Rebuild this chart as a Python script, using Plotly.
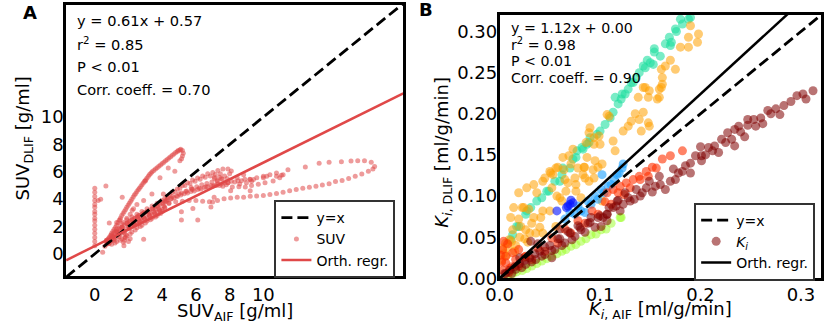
import plotly.graph_objects as go

# ---------------- Panel A data: SUV (AIF vs DLIF) ----------------
col_x = [0, 0, 0, 0, 0, 0, 0, 0, 0, 0, 0, 0, 0, 0, 0, 0, 0.2, 0.35]
col_y = [0.6, 0.9, 1.2, 1.5, 1.8, 2.1, 2.4, 2.6, 2.9, 3.1, 3.4, 3.6, 3.9, 4.2, 4.5, 4.8, 3.9, 4.0]

upper_x = [0.7, 0.85, 1.0, 1.15, 1.3, 1.45, 1.6, 1.75, 1.9, 2.05, 2.2, 2.35, 2.5, 2.65, 2.8, 2.95, 3.1, 3.25,
           3.4, 3.6, 3.8, 4.0, 4.2, 4.4, 4.6, 4.8, 4.95, 5.1, 5.2, 5.25, 5.2, 5.15, 5.05,
           0.9, 1.1, 1.3, 1.5, 1.7, 1.9, 2.1, 2.3, 2.5]
upper_y = [0.9, 1.2, 1.5, 1.8, 2.1, 2.45, 2.8, 3.1, 3.4, 3.7, 4.0, 4.3, 4.55, 4.8, 5.05, 5.3, 5.55, 5.8,
           6.0, 6.2, 6.4, 6.6, 6.8, 7.0, 7.2, 7.4, 7.55, 7.65, 7.55, 7.35, 7.15, 6.95, 6.8,
           1.0, 1.3, 1.6, 1.9, 2.3, 2.6, 2.9, 3.3, 3.6]

upper2_x = [0.78, 0.93, 1.08, 1.23, 1.38, 1.53, 1.68, 1.83, 1.98, 2.13, 2.28, 2.43, 2.58, 2.73, 2.88, 3.03,
            3.18, 3.33, 3.5, 3.7, 3.9, 4.1, 4.3, 4.5, 4.7, 4.9, 5.05]
upper2_y = [1.05, 1.35, 1.65, 1.95, 2.28, 2.62, 2.95, 3.25, 3.55, 3.85, 4.15, 4.42, 4.68, 4.92, 5.18, 5.42,
            5.68, 5.9, 6.1, 6.3, 6.5, 6.7, 6.9, 7.1, 7.3, 7.48, 7.6]

band_x = [0.7, 1.0, 1.3, 1.6, 1.9, 2.2, 2.5, 2.8, 3.1, 3.4, 3.7, 4.0, 4.3,
          0.8, 1.1, 1.4, 1.7, 2.0, 2.3, 2.6, 2.9, 3.2, 3.5, 3.8, 4.1, 4.4,
          1.0, 1.3, 1.6, 1.9, 2.2, 2.5, 2.8, 3.1, 3.4, 3.7, 4.0,
          1.7, 1.75, 1.8, 1.85, 2.0, 2.1,
          1.3, 1.5, 1.2, 1.6, 2.1, 2.4, 2.6, 2.9, 1.9, 2.6,
          0.6, 0.9, 1.15, 1.45, 2.35, 2.75, 3.25, 3.6]
band_y = [1.0, 1.4, 1.8, 2.2, 2.5, 2.7, 2.9, 3.1, 3.3, 3.5, 3.7, 3.9, 4.1,
          0.8, 1.1, 1.4, 1.7, 2.0, 2.3, 2.5, 2.7, 2.9, 3.1, 3.3, 3.5, 3.7,
          0.7, 0.9, 1.1, 1.3, 1.6, 1.9, 2.1, 2.4, 2.6, 2.8, 3.1,
          0.85, 1.0, 1.2, 1.4, 0.9, 1.1,
          2.3, 2.5, 1.6, 1.9, 2.4, 2.6, 2.8, 3.0, 2.2, 2.2,
          0.55, 0.95, 1.25, 1.6, 2.15, 2.6, 3.0, 3.3]

band2_x = [0.75, 1.05, 1.35, 1.65, 1.95, 2.25, 2.55, 2.85, 3.15, 3.45, 3.75, 4.05,
           0.85, 1.15, 1.45, 1.75, 2.05, 2.35, 2.65, 2.95, 3.25, 3.55, 3.85, 4.15,
           1.2, 1.5, 1.8, 2.1, 2.4, 2.7, 3.0, 3.3, 3.6, 3.9]
band2_y = [0.9, 1.25, 1.6, 1.95, 2.25, 2.5, 2.7, 2.9, 3.1, 3.3, 3.5, 3.7,
           0.75, 1.0, 1.25, 1.55, 1.85, 2.15, 2.4, 2.6, 2.8, 3.0, 3.2, 3.4,
           0.8, 1.0, 1.2, 1.45, 1.75, 2.0, 2.25, 2.5, 2.7, 2.95]

band3_x = [0.7, 0.85, 1.0, 1.15, 1.3, 1.45, 1.6, 1.75, 1.9, 2.05, 2.2, 2.35, 2.5, 2.65, 2.8, 2.95, 3.1, 3.25,
           3.4, 3.55, 3.7, 3.85, 4.0, 4.15]
band3_hi_y = [1.0, 1.15, 1.3, 1.5, 1.65, 1.8, 1.95, 2.1, 2.25, 2.35, 2.5, 2.6, 2.7, 2.8, 2.9, 3.0, 3.1, 3.2,
              3.3, 3.4, 3.5, 3.6, 3.7, 3.8]
band3_lo_y = [0.7, 0.8, 0.95, 1.1, 1.25, 1.4, 1.5, 1.65, 1.8, 1.9, 2.0, 2.1, 2.2, 2.35, 2.45, 2.55, 2.65, 2.75,
              2.85, 2.95, 3.05, 3.15, 3.25, 3.35]

arm_x = [4.3, 4.6, 4.9, 5.2, 5.5, 5.8, 6.1, 6.4, 6.7, 7.0, 7.3, 7.6, 7.9, 8.1, 8.0, 7.7, 7.4, 7.1,
         4.5, 4.9, 5.3, 5.7, 6.1, 6.5, 6.9, 7.3, 7.7, 8.1, 8.5, 8.9, 9.2, 9.3, 9.0, 8.6,
         4.4, 4.8, 5.2, 5.6, 6.0, 6.4, 6.8,
         4.2, 4.6, 5.0, 5.4, 5.8, 6.2, 6.6, 7.0, 7.4, 7.8,
         7.1, 7.5, 7.9, 7.6, 7.2]
arm_y = [4.2, 4.5, 4.75, 5.0, 5.2, 5.4, 5.55, 5.7, 5.85, 5.95, 6.1, 6.2, 6.2, 6.05, 5.85, 5.7, 5.6, 5.5,
         4.0, 4.2, 4.4, 4.55, 4.7, 4.85, 5.0, 5.1, 5.2, 5.3, 5.35, 5.45, 5.45, 5.3, 5.2, 5.1,
         3.7, 3.8, 3.85, 3.9, 3.9, 3.85, 3.8,
         3.9, 4.2, 4.4, 4.55, 4.7, 4.8, 4.9, 4.95, 5.0, 5.05,
         5.6, 5.5, 5.2, 4.95, 5.0]

arm2_x = [4.15, 4.45, 4.75, 5.05, 5.35, 5.65, 5.95, 6.25, 6.55, 6.85, 7.15, 7.45,
          4.3, 4.7, 5.1, 5.5, 5.9, 6.3, 6.7, 7.1, 7.5, 7.9, 8.3, 8.7,
          4.25, 4.55, 4.85, 5.15, 5.45, 5.75, 6.05, 6.35, 6.65, 6.95, 7.25, 7.55, 7.85]
arm2_y = [4.05, 4.3, 4.55, 4.8, 5.0, 5.15, 5.3, 5.45, 5.6, 5.7, 5.8, 5.85,
          3.95, 4.1, 4.3, 4.45, 4.6, 4.75, 4.9, 5.0, 5.1, 5.2, 5.25, 5.35,
          3.85, 4.05, 4.25, 4.45, 4.6, 4.75, 4.9, 5.05, 5.15, 5.25, 5.35, 5.45, 5.5]

loop11_x = [9.22, 9.61, 10.0, 10.39, 10.78, 11.07, 10.97, 10.58, 10.1, 9.7, 9.3, 8.93, 8.55, 8.16]
loop11_y = [5.44, 5.56, 5.67, 5.79, 5.91, 5.74, 5.56, 5.32, 5.2, 5.09, 5.0, 4.89, 4.9, 4.89]

big_x = [11.46, 12.49, 13.31, 13.9, 14.63, 15.2, 15.6, 16.0, 16.4, 16.6, 16.5, 16.23, 15.84, 15.45, 15.06,
         14.67, 14.28, 13.9, 13.5, 13.12, 12.73, 12.34, 11.95, 11.56, 11.17, 10.78, 10.39, 10.0, 9.6, 9.22,
         8.83, 8.45, 8.06, 7.67, 7.28, 6.99]
big_y = [6.15, 6.34, 6.62, 6.69, 6.74, 6.79, 6.81, 6.81, 6.7, 6.38, 6.2, 6.03, 5.84, 5.67, 5.51,
         5.37, 5.28, 5.13, 5.04, 4.94, 4.87, 4.8, 4.71, 4.61, 4.5, 4.42, 4.33, 4.26, 4.23, 4.21,
         4.14, 4.14, 4.09, 4.02, 3.9, 3.79]

stray_x = [0.66, 0.86, 1.63, 2.22, 2.9, 1.73, 0.47, 3.87, 4.75, 4.07, 3.39, 2.9, 5.14, 5.82, 5.14, 6.11,
           3.0, 4.36, 5.72, 7.08, 7.28, 8.45, 8.83, 9.42, 10.0, 10.2, 10.78, 11.17, 9.22, 8.06, 6.89]
stray_y = [4.96, 2.25, 4.14, 3.19, 1.06, 0.6, 0.12, 5.56, 6.03, 4.38, 4.38, 3.9, 3.08, 3.31, 2.48, 2.48,
           5.32, 6.27, 4.85, 4.14, 5.32, 5.56, 5.79, 5.44, 5.56, 5.67, 5.67, 5.79, 4.61, 4.61, 3.43]

suv_aif = (col_x + upper_x + upper2_x + band_x + band2_x + band3_x + band3_x + arm_x + arm2_x
           + loop11_x + big_x + stray_x)
suv_dlif = (col_y + upper_y + upper2_y + band_y + band2_y + band3_hi_y + band3_lo_y + arm_y + arm2_y
            + loop11_y + big_y + stray_y)

A_SLOPE, A_INTERCEPT = 0.61, 0.57
A_XRANGE = [-1.7, 18.3]
A_YRANGE = [-1.65, 18.2]
A_TICKS = [0, 2, 4, 6, 8, 10]
A_STATS = ["y = 0.61x + 0.57", "r<sup>2</sup> = 0.85", "P < 0.01", "Corr. coeff. = 0.70"]

# ---------------- Panel B data: Ki (AIF vs DLIF), per colour group ----------------
dr_x = [0.312, 0.302, 0.296, 0.283, 0.275, 0.267, 0.26, 0.253, 0.247, 0.247, 0.234, 0.227, 0.231, 0.221, 0.234,
        0.214, 0.218, 0.208, 0.201, 0.201, 0.195, 0.185, 0.182, 0.175, 0.165, 0.16, 0.159, 0.149, 0.146, 0.136,
        0.134, 0.13, 0.123, 0.116, 0.113, 0.107, 0.103, 0.107,
        0.29, 0.27, 0.255, 0.24, 0.225, 0.212, 0.205, 0.19, 0.178, 0.17, 0.155, 0.142, 0.128, 0.12, 0.118, 0.125,
        0.14, 0.152, 0.244, 0.262, 0.279, 0.305, 0.19, 0.238, 0.2, 0.173,
        0.117, 0.107, 0.098, 0.088, 0.101, 0.081, 0.075, 0.065, 0.055, 0.045, 0.036, 0.026, 0.016, 0.006, 0.031,
        0.109, 0.091, 0.052,
        0.01, 0.02, 0.03, 0.04, 0.05, 0.06, 0.07, 0.08, 0.09, 0.1,
        0.012, 0.022, 0.032, 0.042, 0.052, 0.062, 0.072, 0.085, 0.095,
        0.005, 0.015, 0.025, 0.035, 0.045, 0.058, 0.068, 0.078,
        0.02, 0.038, 0.06]
dr_y = [0.228, 0.224, 0.222, 0.21, 0.206, 0.204, 0.195, 0.193, 0.193, 0.186, 0.181, 0.177, 0.169, 0.169, 0.161,
        0.161, 0.153, 0.159, 0.149, 0.143, 0.149, 0.137, 0.13, 0.12, 0.108, 0.114, 0.124, 0.118, 0.11, 0.108,
        0.096, 0.094, 0.09, 0.088, 0.086, 0.078, 0.074, 0.07,
        0.215, 0.2, 0.185, 0.178, 0.165, 0.155, 0.15, 0.14, 0.128, 0.118, 0.112, 0.104, 0.098, 0.082, 0.095, 0.104,
        0.1, 0.105, 0.172, 0.188, 0.199, 0.218, 0.128, 0.185, 0.16, 0.133,
        0.094, 0.078, 0.074, 0.067, 0.063, 0.059, 0.051, 0.043, 0.035, 0.029, 0.023, 0.017, 0.011, 0.0054, 0.045,
        0.086, 0.074, 0.025,
        0.01, 0.018, 0.025, 0.033, 0.04, 0.048, 0.055, 0.062, 0.068, 0.076,
        0.006, 0.013, 0.02, 0.027, 0.034, 0.04, 0.047, 0.056, 0.062,
        0.006, 0.014, 0.022, 0.03, 0.038, 0.048, 0.057, 0.064,
        0.025, 0.042, 0.06]

ro_x = [0.124, 0.111, 0.098, 0.085, 0.071, 0.058, 0.045, 0.032, 0.019, 0.0095, 0.003, 0.006, 0.013, 0.019, 0.006,
        0.016, 0.026, 0.152, 0.156, 0.146, 0.139, 0.133, 0.126, 0.12, 0.113, 0.107, 0.162, 0.17, 0.182,
        0.118, 0.105, 0.092, 0.078, 0.065, 0.052, 0.038, 0.025, 0.012,
        0.002, 0.004, 0.008, 0.01, 0.001, 0.003, 0.14, 0.148, 0.13]
ro_y = [0.102, 0.09, 0.078, 0.067, 0.055, 0.043, 0.033, 0.023, 0.015, 0.0075, 0.035, 0.027, 0.031, 0.035, 0.019,
        0.023, 0.027, 0.135, 0.134, 0.13, 0.124, 0.12, 0.116, 0.112, 0.108, 0.104, 0.145, 0.149, 0.155,
        0.104, 0.093, 0.082, 0.07, 0.06, 0.049, 0.037, 0.026, 0.014,
        0.02, 0.045, 0.042, 0.012, 0.028, 0.01, 0.12, 0.124, 0.11]

or_x = [0.05, 0.045, 0.037, 0.0225, 0.029, 0.019, 0.006, 0.003, 0.052, 0.057, 0.065, 0.068, 0.062, 0.078, 0.0845,
        0.093, 0.098, 0.075, 0.085, 0.094, 0.076, 0.081, 0.013, 0.0095, 0.026, 0.032, 0.041, 0.036,
        0.188, 0.18, 0.188, 0.17, 0.165, 0.175, 0.162, 0.159, 0.157, 0.143, 0.138, 0.149, 0.131, 0.139, 0.143,
        0.149, 0.123, 0.141, 0.107, 0.113, 0.115, 0.1, 0.094, 0.102, 0.095, 0.087, 0.084, 0.071, 0.063, 0.064,
        0.058, 0.051, 0.09, 0.094,
        0.19, 0.198, 0.197, 0.161, 0.162, 0.161, 0.159, 0.145, 0.148, 0.135, 0.148, 0.128, 0.109, 0.089, 0.099,
        0.086, 0.073, 0.069, 0.056, 0.053, 0.043, 0.034, 0.027, 0.019, 0.024, 0.014, 0.011, 0.021, 0.034, 0.043,
        0.06, 0.066, 0.076, 0.083, 0.089, 0.102, 0.056, 0.043, 0.05,
        0.004, 0.008, 0.012, 0.016, 0.02, 0.025, 0.03, 0.002, 0.007, 0.015, 0.028, 0.04]
or_y = [0.13, 0.122, 0.104, 0.086, 0.084, 0.072, 0.043, 0.037, 0.11, 0.1, 0.12, 0.116, 0.094, 0.134, 0.135,
        0.132, 0.135, 0.122, 0.122, 0.122, 0.106, 0.098, 0.059, 0.047, 0.059, 0.067, 0.074, 0.055,
        0.281, 0.281, 0.293, 0.265, 0.258, 0.254, 0.236, 0.23, 0.218, 0.232, 0.22, 0.228, 0.191, 0.193, 0.202,
        0.185, 0.179, 0.179, 0.199, 0.167, 0.155, 0.163, 0.163, 0.139, 0.143, 0.147, 0.135, 0.139, 0.147, 0.132,
        0.135, 0.128, 0.183, 0.171,
        0.307, 0.297, 0.287, 0.254, 0.244, 0.232, 0.22, 0.232, 0.22, 0.2, 0.189, 0.185, 0.197, 0.177, 0.173,
        0.165, 0.157, 0.149, 0.134, 0.126, 0.118, 0.114, 0.11, 0.104, 0.086, 0.086, 0.074, 0.063, 0.074, 0.082,
        0.098, 0.106, 0.114, 0.126, 0.118, 0.094, 0.063, 0.055, 0.082,
        0.03, 0.038, 0.045, 0.04, 0.05, 0.048, 0.055, 0.022, 0.028, 0.033, 0.044, 0.062]

aq_x = [0.042, 0.049, 0.055, 0.062, 0.07, 0.031, 0.026, 0.019, 0.013,
        0.188, 0.182, 0.175, 0.169, 0.165, 0.17, 0.154, 0.147, 0.143, 0.139, 0.136, 0.133, 0.128, 0.125, 0.121,
        0.118, 0.113, 0.11, 0.105, 0.1, 0.097, 0.09, 0.087, 0.082, 0.077, 0.076,
        0.18, 0.19, 0.171, 0.154, 0.153, 0.145, 0.131, 0.122, 0.115, 0.089, 0.083, 0.073, 0.063, 0.06, 0.047,
        0.037, 0.027, 0.017, 0.011, 0.176, 0.16, 0.15]
aq_y = [0.098, 0.106, 0.118, 0.126, 0.134, 0.086, 0.078, 0.063, 0.053,
        0.315, 0.309, 0.303, 0.293, 0.285, 0.283, 0.279, 0.265, 0.258, 0.25, 0.244, 0.238, 0.23, 0.224, 0.218,
        0.212, 0.202, 0.195, 0.187, 0.179, 0.175, 0.171, 0.163, 0.159, 0.155, 0.147,
        0.315, 0.317, 0.287, 0.275, 0.26, 0.256, 0.238, 0.224, 0.22, 0.165, 0.157, 0.145, 0.134, 0.118, 0.106,
        0.094, 0.082, 0.063, 0.047, 0.3, 0.27, 0.262]

lb_x = [0.075, 0.081, 0.091, 0.098, 0.104, 0.111, 0.117, 0.122, 0.088, 0.078, 0.101, 0.114, 0.123, 0.102,
        0.108, 0.095, 0.085, 0.119, 0.065, 0.07]
lb_y = [0.078, 0.082, 0.09, 0.096, 0.104, 0.114, 0.126, 0.134, 0.094, 0.088, 0.108, 0.12, 0.139, 0.126,
        0.112, 0.1, 0.08, 0.128, 0.072, 0.08]

bl_x = [0.07, 0.073, 0.0665, 0.057, 0.071, 0.068]
bl_y = [0.09, 0.092, 0.086, 0.082, 0.095, 0.088]

gr_x = [0.12, 0.111, 0.101, 0.091, 0.081, 0.071, 0.062, 0.052, 0.042, 0.032, 0.0225, 0.013,
        0.121, 0.106, 0.096, 0.086, 0.076, 0.066, 0.057, 0.047, 0.037, 0.027, 0.017, 0.008]
gr_y = [0.074, 0.067, 0.059, 0.053, 0.045, 0.039, 0.033, 0.027, 0.021, 0.015, 0.0095, 0.0054,
        0.074, 0.06, 0.054, 0.048, 0.041, 0.035, 0.03, 0.024, 0.018, 0.012, 0.008, 0.003]

B_SLOPE, B_INTERCEPT = 1.12, 0.00
B_RANGE = [0, 0.32]
B_XTICKS = [0.0, 0.1, 0.2, 0.3]
B_YTICKS = [0.0, 0.05, 0.10, 0.15, 0.20, 0.25, 0.30]
B_STATS = ["y = 1.12x + 0.00", "r<sup>2</sup> = 0.98", "P < 0.01", "Corr. coeff. = 0.90"]

# ---------------- Figure ----------------
W, H = 824, 333
FONT = "DejaVu Sans"
RED = "#e04848"

fig = go.Figure()

# Panel A
fig.add_trace(go.Scatter(x=suv_aif, y=suv_dlif, mode="markers", name="SUV",
                         marker=dict(size=5, color=RED, opacity=0.55, line=dict(width=0)),
                         xaxis="x", yaxis="y", legend="legend", legendrank=2))
fig.add_trace(go.Scatter(x=A_XRANGE, y=A_XRANGE, mode="lines", name="y=x",
                         line=dict(color="black", width=2.8, dash="11px,5px"),
                         xaxis="x", yaxis="y", legend="legend", legendrank=1))
fig.add_trace(go.Scatter(x=A_XRANGE, y=[A_SLOPE * v + A_INTERCEPT for v in A_XRANGE], mode="lines",
                         name="Orth. regr.", line=dict(color=RED, width=2.5),
                         xaxis="x", yaxis="y", legend="legend", legendrank=3))

# Panel B
groups = [
    (gr_x, gr_y, "#99ff22", 0.5, False),
    (aq_x, aq_y, "#20e0a0", 0.6, False),
    (or_x, or_y, "#ffa000", 0.55, False),
    (lb_x, lb_y, "#1aa0ff", 0.6, False),
    (bl_x, bl_y, "#0010ff", 0.6, False),
    (ro_x, ro_y, "#ff3000", 0.6, False),
    (dr_x, dr_y, "#800000", 0.55, True),
]
for gx, gy, col, op, show in groups:
    fig.add_trace(go.Scatter(x=gx, y=gy, mode="markers", name="<i>K<sub>i</sub></i>",
                             marker=dict(size=9, color=col, opacity=op, line=dict(width=0)),
                             showlegend=show, xaxis="x2", yaxis="y2", legend="legend2", legendrank=2))
fig.add_trace(go.Scatter(x=B_RANGE, y=B_RANGE, mode="lines", name="y=x",
                         line=dict(color="black", width=2.8, dash="11px,5px"),
                         xaxis="x2", yaxis="y2", legend="legend2", legendrank=1))
fig.add_trace(go.Scatter(x=B_RANGE, y=[B_SLOPE * v + B_INTERCEPT for v in B_RANGE], mode="lines",
                         name="Orth. regr.", line=dict(color="black", width=2.5),
                         xaxis="x2", yaxis="y2", legend="legend2", legendrank=3))

axis_common = dict(showline=True, mirror=True, linecolor="black", linewidth=2.5, ticks="",
                   showgrid=False, zeroline=False, tickfont=dict(size=18, color="black", family=FONT))

annotations = []
def px_ann(text, x, y, size=14, xanchor="left", yanchor="middle", angle=0, bold=False):
    annotations.append(dict(text=("<b>%s</b>" % text) if bold else text, x=x / W, y=1 - y / H,
                            xref="paper", yref="paper", xanchor=xanchor, yanchor=yanchor,
                            showarrow=False, textangle=angle,
                            font=dict(size=size, color="black", family=FONT)))

for i, t in enumerate(A_STATS):
    px_ann(t, 62, 21.5 + i * 23.6, size=14.6)
for i, t in enumerate(B_STATS):
    px_ann(t, 504, 28.5 + i * 17.2, size=14.2)

px_ann("A", 16, 12.5, size=18, xanchor="center", bold=True)
px_ann("B", 419, 10, size=18, xanchor="center", bold=True)

px_ann("SUV<sub>AIF</sub> [g/ml]", 225, 322, size=18, xanchor="center")
px_ann("SUV<sub>DLIF</sub> [g/ml]", 10, 143, size=18, xanchor="center", angle=-90)
px_ann("<i>K</i><sub><i>i</i>, AIF</sub> [ml/g/min]", 658, 320, size=18, xanchor="center")
px_ann("<i>K</i><sub><i>i</i>, DLIF</sub> [ml/g/min]", 437, 157, size=18, xanchor="center", angle=-90)

legend_common = dict(bgcolor="white", bordercolor="#333333", borderwidth=2,
                     font=dict(size=14, color="black", family=FONT), tracegroupgap=0,
                     itemwidth=30, xanchor="right", yanchor="middle")

fig.update_layout(
    width=W, height=H, margin=dict(l=0, r=0, t=0, b=0),
    paper_bgcolor="white", plot_bgcolor="white",
    font=dict(family=FONT, color="black"),
    xaxis=dict(domain=[53 / W, 396 / W], range=A_XRANGE, tickvals=A_TICKS, anchor="y", **axis_common),
    yaxis=dict(domain=[1 - 285 / H, 1 - 5 / H], range=A_YRANGE, tickvals=A_TICKS, anchor="x",
               ticklabelstandoff=-4, **axis_common),
    xaxis2=dict(domain=[494 / W, 821 / W], range=B_RANGE, tickvals=B_XTICKS, tickformat=".1f",
                anchor="y2", ticklabelstandoff=-2, **axis_common),
    yaxis2=dict(domain=[1 - 287 / H, 1 - 15.5 / H], range=B_RANGE, tickvals=B_YTICKS, tickformat=".2f",
                anchor="x2", ticklabelstandoff=-4, **axis_common),
    legend=dict(x=388 / W, y=1 - 246.5 / H, **legend_common),
    legend2=dict(x=815 / W, y=1 - 249 / H, **legend_common),
    annotations=annotations,
    showlegend=True,
)

# the page's default 8px body margin would push the 824x333 figure out of the 824x333 window
fig.write_html("out.html", config={"displayModeBar": False},
               post_script="document.body.style.margin='0';")
